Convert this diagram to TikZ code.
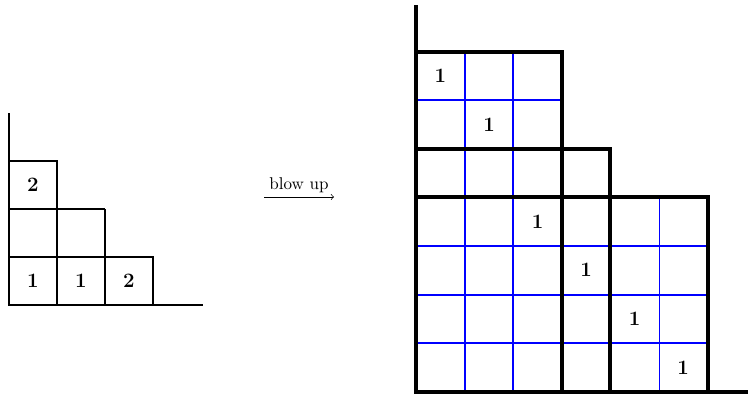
\documentclass[tikz,border=0pt]{standalone}
\begin{document}
\begin{tikzpicture}[x=0.5866pt,y=-0.5866pt,
  thin box/.style={line width=0.7pt},
  thick box/.style={line width=1.9pt},
  blue grid/.style={blue,line width=0.6pt},
  entry/.style={font=\large\bfseries}]
\useasboundingbox (0,0) rectangle (748,393);
% left diagram
\coordinate (la) at (9,113);
\coordinate (lo) at (9,305);
\coordinate (lb) at (203,305);
\draw[thin box] (la) -- (lo) -- (lb);
\draw[thin box] (9,257) -- (153,257) -- (153,305);
\draw[thin box] (57,305) -- (57,209);
\draw[thin box] (105,305) -- (105,209);
\draw[thin box] (9,209) -- (105,209);
\draw[thin box] (9,161) -- (57,161) -- (57,209);
\node[entry] (l1) at (33,185) {2};
\node[entry] (l2) at (33,281) {1};
\node[entry] (l3) at (81,281) {1};
\node[entry] (l4) at (129,281) {2};
% arrow
\coordinate (as) at (264,197);
\coordinate (ae) at (334,197);
\draw[->,line width=0.4pt] (as) -- node[above=-1pt] (lab) {blow up} (ae);
% right diagram: blue grid
\draw[blue grid] (465,52) -- (465,392);
\draw[blue grid] (513,52) -- (513,392);
\draw[blue grid] (659,197) -- (659,392);
\draw[blue grid] (416,100) -- (562,100);
\draw[blue grid] (416,246) -- (708,246);
\draw[blue grid] (416,295) -- (708,295);
\draw[blue grid] (416,343) -- (708,343);
% thick block lines
\coordinate (ra) at (416,5);
\coordinate (ro) at (416,392);
\coordinate (rb) at (748,392);
\draw[thick box] (ra) -- (ro) -- (rb);
\draw[thick box] (416,52) -- (562,52) -- (562,392);
\draw[thick box] (416,149) -- (610,149) -- (610,392);
\draw[thick box] (416,197) -- (708,197) -- (708,392);
\node[entry] (r1) at (440.5,76) {1};
\node[entry] (r2) at (489,124.5) {1};
\node[entry] (r3) at (537.5,221.5) {1};
\node[entry] (r4) at (586,270) {1};
\node[entry] (r5) at (634.5,319) {1};
\node[entry] (r6) at (683,367.5) {1};
\end{tikzpicture}
\end{document}
